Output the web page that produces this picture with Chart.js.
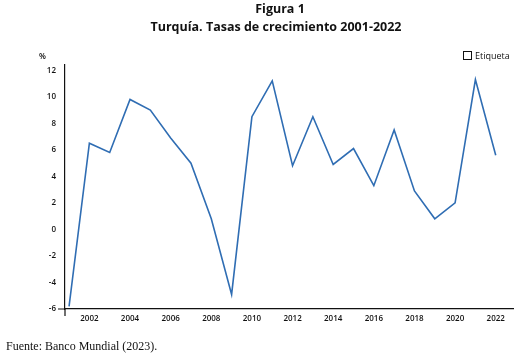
<!DOCTYPE html>
<html><head><meta charset="utf-8">
<script src="https://cdn.jsdelivr.net/npm/chart.js@4/dist/chart.umd.min.js"></script>
<style>
html,body{margin:0;padding:0;background:#fff;}
body{width:521px;height:356px;position:relative;overflow:hidden;font-family:"Open Sans",sans-serif;color:#111;}
#wrap{position:absolute;left:0;top:0;width:521px;height:356px;}
.t{position:absolute;white-space:nowrap;}
#t1{left:0;width:560px;text-align:center;top:0;font-weight:bold;font-size:12.5px;}
#t2{left:0;width:552px;text-align:center;top:18px;font-weight:bold;font-size:12.5px;}
#pct{left:39px;top:50px;font-size:8px;font-weight:600;}
#leg{left:463px;top:49px;font-size:9px;}
#leg span.b{display:inline-block;width:7px;height:7px;border:1px solid #111;vertical-align:-1px;margin-right:3px;}
#src{left:6px;top:339px;font-family:"Liberation Serif",serif;font-size:12px;}
</style></head>
<body>
<div id="wrap"><canvas id="c" width="521" height="356"></canvas></div>
<div class="t" id="t1">Figura 1</div>
<div class="t" id="t2">Turquía. Tasas de crecimiento 2001-2022</div>
<div class="t" id="pct">%</div>
<div class="t" id="leg"><span class="b"></span>Etiqueta</div>
<div class="t" id="src">Fuente: Banco Mundial (2023).</div>
<script>
const years = [2001,2002,2003,2004,2005,2006,2007,2008,2009,2010,2011,2012,2013,2014,2015,2016,2017,2018,2019,2020,2021,2022];
const growth = [-5.8,6.5,5.8,9.8,9.0,6.9,5.0,0.8,-4.9,8.5,11.2,4.8,8.5,4.9,6.1,3.3,7.5,2.9,0.8,2.0,11.3,5.6];
const xTicks = [2002,2004,2006,2008,2010,2012,2014,2016,2018,2020,2022];
const yTicks = [-6,-4,-2,0,2,4,6,8,10,12];

const overhang = {
  id:'overhang',
  afterDraw(chart){
    const {ctx, chartArea:a} = chart;
    ctx.save();
    ctx.strokeStyle='#111'; ctx.lineWidth=1.2;
    ctx.beginPath();
    ctx.moveTo(a.left-7, a.bottom); ctx.lineTo(a.left, a.bottom);
    ctx.moveTo(a.left, a.bottom); ctx.lineTo(a.left, a.bottom+7);
    ctx.stroke();
    ctx.restore();
  }
};

new Chart(document.getElementById('c'), {
  type:'line',
  data:{datasets:[{label:'Etiqueta', data: years.map((y,i)=>({x:y,y:growth[i]})),
    borderColor:'#2f6db3', borderWidth:1.6, pointRadius:0, tension:0, fill:false}]},
  options:{
    responsive:false, animation:false, devicePixelRatio:1,
    layout:{padding:{left:0,right:8,top:65,bottom:27}},
    plugins:{legend:{display:false}, title:{display:false}, tooltip:{enabled:false}},
    scales:{
      x:{type:'linear', min:2000.8, max:2022.85,
        afterBuildTicks(s){ s.ticks = xTicks.map(v=>({value:v})); },
        afterFit(s){ s.height=20; },
        grid:{display:false, drawTicks:false},
        border:{display:true, color:'#111', width:1.2},
        ticks:{padding:5, color:'#111', font:{family:'Open Sans', size:8, weight:'600'}, maxRotation:0,
          callback:v=>String(v)}
      },
      y:{type:'linear', min:-6, max:12.4,
        afterBuildTicks(s){ s.ticks = yTicks.map(v=>({value:v})); },
        afterFit(s){ s.width=65; },
        grid:{display:false, drawTicks:false},
        border:{display:true, color:'#111', width:1.2},
        ticks:{padding:9, color:'#111', font:{family:'Open Sans', size:8, weight:'600'}}
      }
    }
  },
  plugins:[overhang]
});
</script>
</body></html>
